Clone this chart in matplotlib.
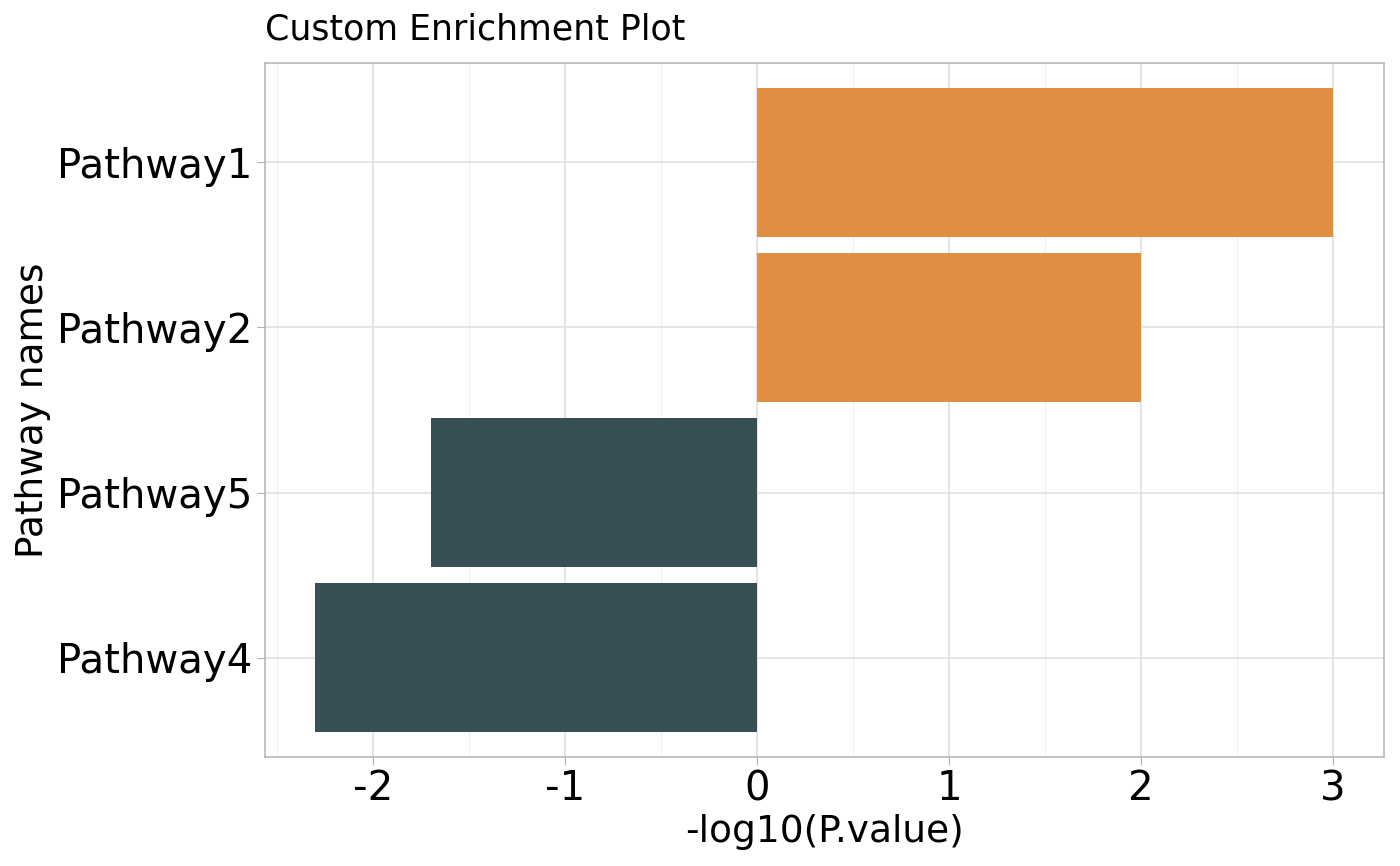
import matplotlib.pyplot as plt
import numpy as np

pathways = ["Pathway1", "Pathway2", "Pathway5", "Pathway4"]
neg_log_p = [3.0, 2.0, -1.7, -2.3]
UP_COLOR = "#DE8F44"
DOWN_COLOR = "#384F56"

fig = plt.figure(figsize=(14, 8.66), dpi=100)
ax = fig.add_axes([0.189, 0.126, 0.7996, 0.801])

ypos = np.arange(len(pathways))[::-1]
colors = [UP_COLOR if v > 0 else DOWN_COLOR for v in neg_log_p]
ax.barh(ypos, neg_log_p, height=0.9, color=colors, zorder=2)

span = max(neg_log_p) - min(neg_log_p)
ax.set_xlim(min(neg_log_p) - 0.05 * span, max(neg_log_p) + 0.05 * span)
ax.set_ylim(-0.6, len(pathways) - 1 + 0.6)

ax.set_xticks([-2, -1, 0, 1, 2, 3])
ax.set_xticklabels(["-2", "-1", "0", "1", "2", "3"])
ax.set_xticks([-2.5, -1.5, -0.5, 0.5, 1.5, 2.5], minor=True)
ax.set_yticks(ypos)
ax.set_yticklabels(pathways)

ax.grid(which="major", color="#DEDEDE", lw=1.1, zorder=0)
ax.grid(which="minor", axis="x", color="#EBEBEB", lw=0.6, zorder=0)
ax.tick_params(which="major", length=6, color="#B3B3B3", labelsize=29, pad=3)
ax.tick_params(which="minor", length=0)
for s in ax.spines.values():
    s.set_color("#B3B3B3")
    s.set_linewidth(1.1)

ax.set_xlabel("-log10(P.value)", fontsize=27, labelpad=3)
ax.set_ylabel("Pathway names", fontsize=27, labelpad=4)
ax.set_title("Custom Enrichment Plot", fontsize=25, loc="left", pad=17)

fig.savefig("out.png", dpi=100)
